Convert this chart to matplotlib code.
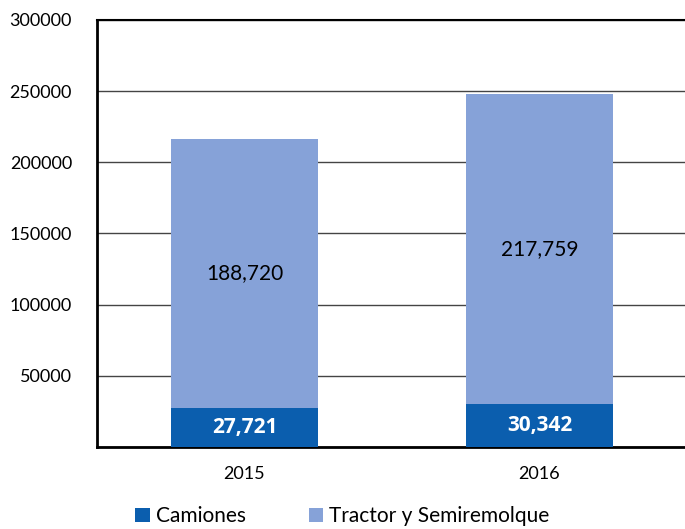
import matplotlib.pyplot as plt
import numpy as np

years = ['2015', '2016']
camiones = [27721, 30342]
tractor = [188720, 217759]
series_names = ['Camiones', 'Tractor y Semiremolque']
colors = ['#0B5EAE', '#86A2D8']

plt.rcParams['font.family'] = ['Lato', 'DejaVu Sans']

fig = plt.figure(figsize=(6.85, 5.29), dpi=100)
ax = fig.add_axes([97/685, 1-447/529, 590/685, 427/529])

x = np.arange(len(years)) + 0.5
b1 = ax.bar(x, camiones, width=0.5, color=colors[0], label=series_names[0], zorder=3)
b2 = ax.bar(x, tractor, width=0.5, bottom=camiones, color=colors[1], label=series_names[1], zorder=3)

for xi, c, t in zip(x, camiones, tractor):
    ax.text(xi, c/2, f'{c:,}', ha='center', va='center', color='white',
            fontsize=15, fontweight='bold', family=['Open Sans', 'DejaVu Sans'], zorder=4)
    ax.text(xi, c + t/2, f'{t:,}', ha='center', va='center', color='black',
            fontsize=15, zorder=4)

ax.set_xlim(0, 2)
ax.set_ylim(0, 300000)
ax.set_yticks(range(0, 300001, 50000))
ax.set_yticklabels([''] + [str(v) for v in range(50000, 300001, 50000)])
ax.set_xticks(x)
ax.set_xticklabels(years)
ax.tick_params(axis='both', length=0, labelsize=13)
ax.tick_params(axis='y', pad=18)
ax.tick_params(axis='x', pad=14)
ax.yaxis.grid(True, color='#444444', linewidth=1.0, zorder=0)
ax.set_axisbelow(True)

for s in ['left', 'bottom']:
    ax.spines[s].set_linewidth(2)
    ax.spines[s].set_color('black')
ax.spines['top'].set_linewidth(1.5)
ax.spines['right'].set_visible(False)

leg = fig.legend(handles=[b1, b2], loc='lower center', bbox_to_anchor=(0.5, -0.03),
                 ncol=2, frameon=False, fontsize=15, handlelength=0.7, handleheight=0.7,
                 handletextpad=0.3, columnspacing=3.0)

fig.savefig('out.png', dpi=100)
